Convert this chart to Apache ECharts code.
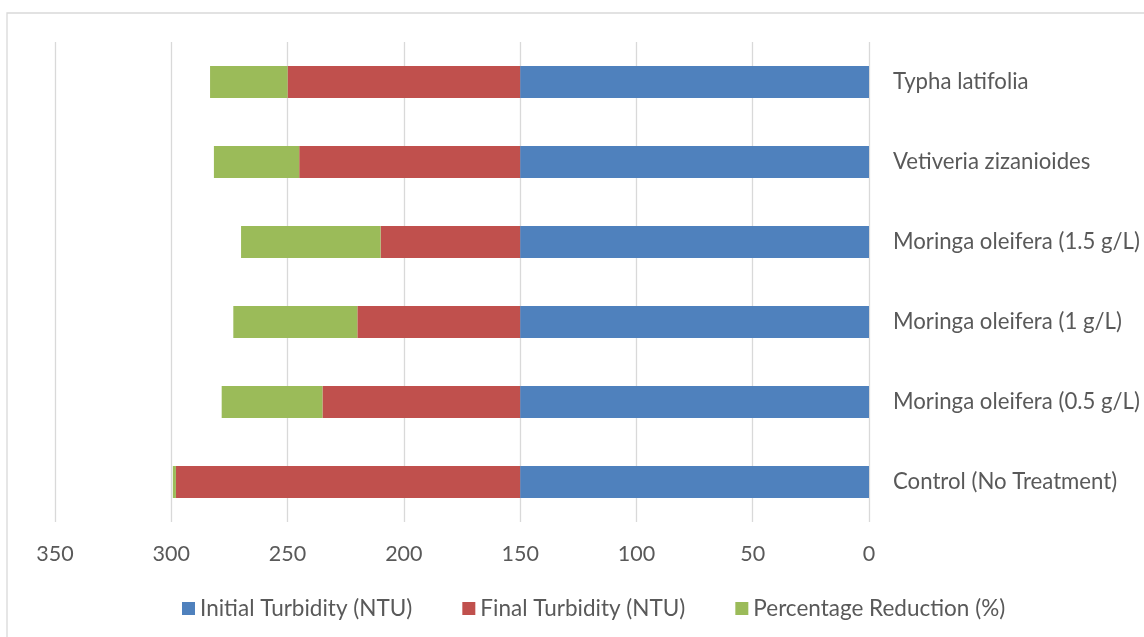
<!DOCTYPE html>
<html>
<head>
<meta charset="utf-8">
<script src="https://cdn.jsdelivr.net/npm/echarts@6/dist/echarts.min.js"></script>
<style>
html,body{margin:0;padding:0;background:#fff;}
#c{width:1144px;height:637px;}
</style>
</head>
<body>
<div id="c"></div>
<script>
const categories = ["Control (No Treatment)", "Moringa oleifera (0.5 g/L)", "Moringa oleifera (1 g/L)", "Moringa oleifera (1.5 g/L)", "Vetiveria zizanioides", "Typha latifolia"];
const initialTurbidity = [150, 150, 150, 150, 150, 150];
const finalTurbidity = [148, 85, 70, 60, 95, 100];
const percentReduction = [1.33, 43.33, 53.33, 60, 36.67, 33.33];
const xTicks = [0, 50, 100, 150, 200, 250, 300, 350];

const FONT = 'Lato';
const TXT = '#595959';
const FS = 22.5;
const chart = echarts.init(document.getElementById('c'), null, {renderer: 'canvas'});
const names = ["Initial Turbidity (NTU)", "Final Turbidity (NTU)", "Percentage Reduction (%)"];
const colors = ['#4F81BD', '#C0504D', '#9BBB59'];
const vals = [initialTurbidity, finalTurbidity, percentReduction];
chart.setOption({
  animation: false,
  backgroundColor: '#fff',
  graphic: [{
    type: 'rect', shape: {x: 7, y: 13, width: 1160, height: 660},
    style: {fill: 'none', stroke: '#D9D9D9', lineWidth: 1.3}, silent: true
  }],
  grid: {left: 55, right: 275, top: 42, bottom: 115, containLabel: false, outerBoundsMode: 'none'},
  legend: {
    data: names, top: 592, left: 177, itemWidth: 13, itemHeight: 13, itemGap: 50,
    icon: 'rect',
    textStyle: {fontFamily: FONT, fontSize: FS, color: TXT}
  },
  xAxis: {
    type: 'value', inverse: true, min: xTicks[0], max: xTicks[xTicks.length-1], interval: 50,
    axisLine: {show: false}, axisTick: {show: false},
    splitLine: {lineStyle: {color: '#D9D9D9', width: 1.3}},
    axisLabel: {fontFamily: FONT, fontSize: 21.5, color: TXT, margin: 21}
  },
  yAxis: {
    type: 'category', data: categories, position: 'right',
    axisLine: {show: false}, axisTick: {show: false},
    axisLabel: {fontFamily: FONT, fontSize: 22.2, color: TXT, margin: 24, align: 'left'}
  },
  series: names.map((n, i) => ({
    name: n, type: 'bar', stack: 'total', data: vals[i], barWidth: '40%',
    itemStyle: {color: colors[i]}
  }))
});
</script>
</body>
</html>
